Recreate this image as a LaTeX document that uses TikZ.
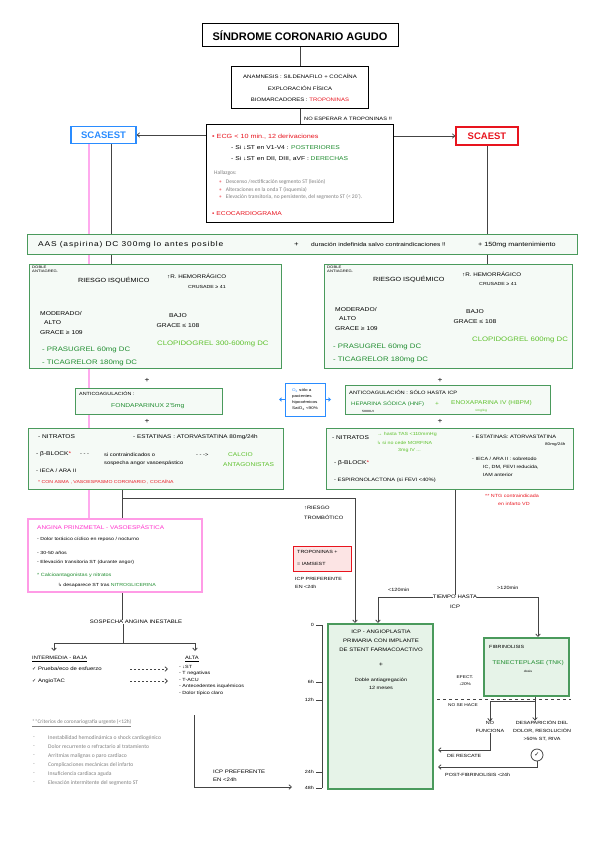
\documentclass[tikz,border=0pt]{standalone}
\usepackage{fontspec}
\setmainfont{Liberation Sans}
\newfontfamily\hand[FakeStretch=1.2]{Liberation Sans}
\newfontfamily\handsp[FakeStretch=1.2,LetterSpace=12]{Liberation Sans}
\newfontfamily\calib{Carlito}
\newfontfamily\dvs{DejaVu Sans}
\usetikzlibrary{arrows.meta,calc,backgrounds}
\newcommand\hf[1]{\hand\fontsize{#1}{#1}\selectfont}
\newcommand\hfl[2]{\hand\fontsize{#1}{#2}\selectfont}
\definecolor{gbord}{HTML}{4A9A5C}
\definecolor{gfill}{HTML}{F5FAF6}
\definecolor{gfillb}{HTML}{E6F3E8}
\definecolor{dgreen}{HTML}{1E8C2E}
\definecolor{lgreen}{HTML}{5CC02A}
\definecolor{hred}{HTML}{E8141E}
\definecolor{hblue}{HTML}{2A8CFF}
\definecolor{hpink}{HTML}{FF33CC}
\definecolor{pinkb}{HTML}{FF9BE6}
\definecolor{pinkl}{HTML}{FFAAEE}
\definecolor{lgray}{HTML}{444444}
\definecolor{tgray}{HTML}{7F7F7F}
\definecolor{rfill}{HTML}{FCE4E4}
\begin{document}
\begin{tikzpicture}[x=1pt,y=-1pt,
  t/.style={inner sep=0, anchor=west, font=\hf{5.5}},
  tc/.style={inner sep=0, align=center, font=\hf{5.5}},
  ln/.style={draw=lgray, line width=0.75pt},
  arr/.style={ln, -{Straight Barb[length=2.5pt,width=4.5pt]}},
  box/.style={draw=black, line width=1pt, fill=white, inner sep=0},
  gbox/.style={draw=gbord, fill=gfill, line width=1pt, inner sep=0},
  gboxb/.style={draw=gbord, fill=gfillb, line width=1.1pt, inner sep=0},
  gt/.style={inner sep=0, anchor=west, text=tgray, font=\calib\fontsize{5.5}{6}\selectfont},
]
\useasboundingbox (0,0) rectangle (599,848);

% ---------- top ----------
\node[box, minimum width=196, minimum height=23, font=\bfseries\fontsize{11}{12}\selectfont] (title) at (300,35.5) {SÍNDROME CORONARIO AGUDO};
\node[box, minimum width=137, minimum height=42, align=center, font=\hfl{5}{11.5}] (anam) at (300,88) {ANAMNESIS : SILDENAFILO + COCAÍNA\\EXPLORACIÓN FÍSICA\\BIOMARCADORES : \textcolor{hred}{TROPONINAS}};
\node[t, font=\hf{4.8}] (noesp) at (304,119) {NO ESPERAR A TROPONINAS !!};
\node[box, minimum width=187, minimum height=97] (ecg) at (299.5,173.5) {};
\node[t, text=hred, font=\hf{6}] (ecg1) at (212,137) {• ECG < 10 min., 12 derivaciones};
\node[t, font=\hf{5.6}] (ecg2) at (231,147.5) {- Si ↓ST en V1-V4 : \textcolor{dgreen}{POSTERIORES}};
\node[t, font=\hf{5.6}] (ecg3) at (231,158.5) {- Si ↓ST en DII, DIII, aVF : \textcolor{dgreen}{DERECHAS}};
\node[gt] (hall) at (214,173) {Hallazgos:};
\node[gt] (h1) at (219,182) {\textcolor{hred!50}{•}\hspace{4pt}Descenso /rectificación segmento ST (lesión)};
\node[gt] (h2) at (219,189.5) {\textcolor{hred!50}{•}\hspace{4pt}Alteraciones en la onda T (isquemia)};
\node[gt] (h3) at (219,197) {\textcolor{hred!50}{•}\hspace{4pt}Elevación transitoria, no persistente, del segmento ST (< 20´).};
\node[t, text=hred, font=\hf{5.6}] (eco) at (212,214) {• ECOCARDIOGRAMA};

\node[draw=hblue, line width=1.2pt, fill=white, minimum width=65, minimum height=17, inner sep=0, text=hblue, font=\bfseries\fontsize{9.5}{10}\selectfont] (scasest) at (103.5,135) {SCASEST};
\node[draw=hred, line width=1.2pt, fill=white, minimum width=62, minimum height=18, inner sep=0, text=hred, font=\bfseries\fontsize{9.5}{10}\selectfont] (scaest) at (487,136) {SCAEST};

% ---------- AAS ----------
\node[gbox, minimum width=550, minimum height=20] (aas) at (302,244.5) {};
\node[t, font=\handsp\fontsize{7}{7}\selectfont] (aas1) at (38,244.5) {AAS (aspirina) DC 300mg lo antes posible};
\node[t, font=\hf{6.5}] (aas2) at (294,244.5) {+};
\node[t, font=\hf{5.5}] (aas3) at (311,244.5) {duración indefinida salvo contraindicaciones !!};
\node[t, font=\hf{6}] (aas4) at (478,244.5) {+ 150mg mantenimiento};

% ---------- riesgo left ----------
\node[gbox, minimum width=252, minimum height=104] (rL) at (155,316) {};
\node[anchor=north west, inner sep=0, align=left, font=\hfl{3.5}{4}] (dL) at (32,266) {DOBLE\\ANTIAGREG.};
\node[t, font=\hf{6}] (risL) at (78,280) {RIESGO ISQUÉMICO};
\node[t, font=\hf{5.2}] (hemL) at (167,276.5) {↑R. HEMORRÁGICO};
\node[t, font=\hf{4.4}] (crL) at (188,286.5) {CRUSADE ≥ 41};
\node[anchor=north west, inner sep=0, align=left, font=\hfl{5.6}{9.5}] (modL) at (40,311) {MODERADO/\\\hspace*{4pt}ALTO\\GRACE ≥ 109};
\node[tc, font=\hfl{5.6}{10}] (bajL) at (178,321) {BAJO\\GRACE ≤ 108};
\node[t, text=lgreen, font=\hf{6.5}] (clL) at (157,344) {CLOPIDOGREL 300-600mg DC};
\node[t, text=dgreen, font=\hf{6.5}] (prL) at (42,350) {- PRASUGREL 60mg DC};
\node[t, text=dgreen, font=\hf{6.5}] (tiL) at (42,363) {- TICAGRELOR 180mg DC};
\coordinate (cL) at (232,337);
\coordinate (bL) at (110,295);
\coordinate (aL1) at (58,305);
\coordinate (aL2) at (179,305);

% ---------- riesgo right ----------
\node[gbox, minimum width=248, minimum height=104] (rR) at (448,316) {};
\node[anchor=north west, inner sep=0, align=left, font=\hfl{3.5}{4}] (dR) at (327,266) {DOBLE\\ANTIAGREG.};
\node[t, font=\hf{6}] (risR) at (373,279) {RIESGO ISQUÉMICO};
\node[t, font=\hf{5.2}] (hemR) at (462,274) {↑R. HEMORRÁGICO};
\node[t, font=\hf{4.4}] (crR) at (479,284) {CRUSADE ≥ 41};
\node[anchor=north west, inner sep=0, align=left, font=\hfl{5.6}{9.5}] (modR) at (335,307) {MODERADO/\\\hspace*{4pt}ALTO\\GRACE ≥ 109};
\node[tc, font=\hfl{5.6}{10}] (bajR) at (475,317) {BAJO\\GRACE ≤ 108};
\node[t, text=lgreen, font=\hf{6.5}] (clR) at (472,340) {CLOPIDOGREL 600mg DC};
\node[t, text=dgreen, font=\hf{6.5}] (prR) at (333,347) {- PRASUGREL 60mg DC};
\node[t, text=dgreen, font=\hf{6.5}] (tiR) at (333,360) {- TICAGRELOR 180mg DC};
\coordinate (cR) at (527,334);
\coordinate (bR) at (407,291);
\coordinate (aR1) at (352,301);
\coordinate (aR2) at (475,301);

% ---------- pluses ----------
\node[tc, font=\hf{7}] (pl1) at (147,380) {+};
\node[tc, font=\hf{7}] (pl2) at (440,380) {+};
\node[tc, font=\hf{7}] (pl3) at (147,421) {+};
\node[tc, font=\hf{7}] (pl4) at (440,421) {+};

% ---------- anticoagulation ----------
\node[gbox, minimum width=147, minimum height=26] (acL) at (148.5,401) {};
\node[t, font=\hf{4.5}] (acL1) at (79,394) {ANTICOAGULACIÓN :};
\node[t, text=dgreen, font=\hf{5.6}] (acL2) at (111,406.5) {FONDAPARINUX 2’5mg};

\node[draw=hblue, line width=1pt, fill=white, minimum width=40, minimum height=33, inner sep=0, align=left, font=\hfl{3.8}{5.8}] (o2) at (305,399.5) {\textcolor{hblue}{O\textsubscript{2}} sólo a\\pacientes\\hipoxémicos\\SatO\textsubscript{2} <90\%};
\coordinate (o2l) at (279,399.5);
\coordinate (o2r) at (331,399.5);
\draw[hblue, line width=0.8pt, -{Straight Barb[length=2pt,width=3.5pt]}] (o2.west) -- (o2l);
\draw[hblue, line width=0.8pt, -{Straight Barb[length=2pt,width=3.5pt]}] (o2.east) -- (o2r);

\node[gbox, minimum width=205, minimum height=29] (acR) at (447.5,400) {};
\node[t, font=\hf{4.8}] (acR1) at (349,392) {ANTICOAGULACIÓN : SÓLO HASTA ICP};
\node[t, text=dgreen, font=\hf{5}] (acR2) at (351,403.5) {HEPARINA SÓDICA (HNF)};
\node[t, text=lgreen, font=\hf{5.5}] (acR3) at (435,403.5) {+};
\node[t, text=lgreen, font=\hf{5.5}] (acR4) at (451,403.5) {ENOXAPARINA IV (HBPM)};
\node[t, font=\hf{3}] (acR5) at (362,411) {5000UI};
\node[t, text=lgreen, font=\hf{3}] (acR6) at (475,411) {1mg/kg};

% ---------- nitratos left ----------
\node[gbox, minimum width=255, minimum height=61] (nL) at (155.5,458.5) {};
\node[t] (nl1) at (38,437) {- NITRATOS};
\node[t, font=\hf{5.3}] (nl2) at (133,437) {- ESTATINAS : ATORVASTATINA 80mg/24h};
\node[t] (nl3) at (36,454) {- β-BLOCK\textcolor{hred}{*}};
\node[t, font=\hf{4.8}] (nl4) at (80,455) {- - -};
\node[t, font=\hf{4.8}] (nl5) at (104,455) {si contraindicados o};
\node[t, font=\hf{4.8}] (nl6) at (196,455) {- - ->};
\node[t, text=lgreen, font=\hf{5.5}] (nl7) at (228,455) {CALCIO};
\node[t, font=\hf{4.8}] (nl8) at (104,463) {sospecha angor vasoespástico};
\node[t, text=lgreen, font=\hf{5.5}] (nl9) at (223,464.5) {ANTAGONISTAS};
\node[t, font=\hf{5}] (nl10) at (36,471) {- IECA / ARA II};
\node[t, text=hred, font=\hf{4.3}] (nl11) at (38,482) {* CON ASMA , VASOESPASMO CORONARIO , COCAÍNA};

% ---------- nitratos right ----------
\node[gbox, minimum width=247, minimum height=61] (nR) at (449.5,458.5) {};
\node[t] (nr1) at (332,438) {- NITRATOS};
\node[t, text=lgreen, font=\hf{4.4}] (nr2) at (377,434.5) {→ hasta TAS <110mmHg};
\node[t, text=lgreen, font=\hf{4.4}] (nr3) at (377,442.5) {{\dvs ↳} si no cede MORFINA};
\node[t, text=lgreen, font=\hf{4.4}] (nr4) at (398,450.5) {3mg IV ...};
\node[t, font=\hf{4.8}] (nr5) at (472,437) {- ESTATINAS: ATORVASTATINA};
\node[t, font=\hf{3.8}] (nr6) at (545,445) {80mg/24h};
\node[t] (nr7) at (334,463) {- β-BLOCK\textcolor{hred}{*}};
\node[t, font=\hf{4.5}] (nr8) at (472,459) {- IECA / ARA II : sobretodo};
\node[t, font=\hf{4.5}] (nr9) at (483,467) {IC, DM, FEVI reducida,};
\node[t, font=\hf{4.5}] (nr10) at (483,475) {IAM anterior};
\node[t, font=\hf{4.8}] (nr11) at (334,480) {- ESPIRONOLACTONA (si FEVI <40\%)};

\node[t, text=hred, font=\hf{4.5}] (ntg1) at (485,496) {** NTG contraindicada};
\node[t, text=hred, font=\hf{4.5}] (ntg2) at (498,504) {en infarto VD};

% ---------- Prinzmetal ----------
\node[draw=pinkb, line width=1.2pt, fill=white, minimum width=174, minimum height=73, inner sep=0] (pink) at (115,555.5) {};
\node[t, text=hpink, font=\hf{5.4}] (pk1) at (37,527) {ANGINA PRINZMETAL - VASOESPÁSTICA};
\node[t, font=\hf{4.4}] (pk2) at (37,539) {- Dolor torácico cíclico en reposo / nocturno};
\node[t, font=\hf{4.4}] (pk3) at (37,553) {- 30-50 años};
\node[t, font=\hf{4.4}] (pk4) at (37,562) {- Elevación transitoria ST (durante angor)};
\node[t, text=dgreen, font=\hf{4.6}] (pk5) at (37,575) {* Calcioantagonistas y nitratos};
\node[t, font=\hf{4.4}] (pk6) at (58,585) {{\dvs ↳} desaparece ST tras \textcolor{dgreen}{NITROGLICERINA}};

% ---------- middle ----------
\coordinate (jL) at (122,498);
\coordinate (icpL) at (355,623);
\node[anchor=north west, inner sep=0, align=left, font=\hfl{4.8}{10}] (trom) at (304,506) {↑RIESGO\\TROMBÓTICO};
\node[draw=hred, line width=1pt, fill=rfill, minimum width=58, minimum height=25, inner sep=0] (trop) at (322,558.5) {};
\node[t, font=\hf{4.5}] (tr1) at (297,552) {TROPONINAS +};
\node[t, font=\hf{4.5}] (tr2) at (297,564) {= IAMSEST};
\node[t, font=\hf{4.5}] (ipl1) at (295,579) {ICP PREFERENTE};
\node[t, font=\hf{4.5}] (ipl2) at (295,587) {EN <24h};

\node[tc, font=\hf{5}] (tiempo) at (455,597) {TIEMPO HASTA};
\node[tc, font=\hf{5}] (tiempo2) at (455,607) {ICP};
\node[t, font=\hf{4.6}] (lt120) at (388,590) {<120min};
\node[t, font=\hf{4.6}] (gt120) at (497,588) {>120min};
\coordinate (icpR) at (378,623);
\coordinate (fibT) at (538,637);

% ---------- ICP box and timeline ----------
\node[gboxb, minimum width=105, minimum height=165] (icp) at (380.5,706.5) {};
\node[tc, font=\hfl{5}{9}] (icp1) at (381,641) {ICP - ANGIOPLASTIA\\PRIMARIA CON IMPLANTE\\DE STENT FARMACOACTIVO};
\node[tc, font=\hf{6}] (icp2) at (381,665) {+};
\node[tc, font=\hfl{4.6}{8}] (icp3) at (381,684) {Doble antiagregación\\12 meses};

\coordinate (tl0) at (322,625);
\coordinate (tl1) at (322,788);
\draw[ln] (tl0) -- (tl1);
\foreach \yy/\lab in {625/0, 682/6h, 700/12h, 772/24h, 788/48h}{
  \draw[ln] (316,\yy) -- (322,\yy);
  \node[inner sep=0, anchor=east, font=\hf{4.5}] at (314,\yy) {\lab};
}

% ---------- fibrinolisis ----------
\node[gboxb, minimum width=85, minimum height=58] (fib) at (526.5,667) {};
\node[t, font=\hf{4.5}] (fib1) at (489,647) {FIBRINOLISIS};
\node[tc, text=dgreen, font=\hf{5.5}] (fib2) at (528,663) {TENECTEPLASE (TNK)};
\node[tc, font=\hf{3}] (fib3) at (528,671) {dosis};
\node[tc, font=\hfl{4}{7}] (efect) at (465,681) {EFECT.\\↓20\%};
\node[t, font=\hf{4}] (nosehace) at (448,705.5) {NO SE HACE};
\coordinate (dash1) at (437,699);
\coordinate (dash2) at (571,699);
\draw[ln, dash pattern=on 3pt off 3pt] (dash1) -- (dash2);
\coordinate (fb) at (535,701);
\coordinate (fb2) at (490,701);
\node[tc, font=\hfl{4.5}{7.5}] (nofun) at (490,727) {NO\\FUNCIONA};
\node[tc, font=\hfl{4.5}{8}] (desap) at (542,731) {DESAPARICIÓN DEL\\DOLOR, RESOLUCIÓN\\>50\% ST, RIVA};
\node[draw=lgray, circle, line width=0.8pt, minimum size=12, inner sep=0, font=\dvs\fontsize{6}{6}\selectfont] (chk) at (537,755) {✓};
\coordinate (r1) at (438,750);
\coordinate (r2) at (438,767);
\node[t, font=\hf{4.5}] (resc) at (447,756) {DE RESCATE};
\node[t, font=\hf{4.5}] (post) at (445,775) {POST-FIBRINOLISIS <24h};

% ---------- bottom left ----------
\node[tc, font=\hf{5}] (sosp) at (136,622) {SOSPECHA ANGINA INESTABLE};
\coordinate (s1) at (123,643);
\coordinate (ib) at (54,651);
\coordinate (ia) at (195,651);
\node[t, font=\hf{4.8}] (inter) at (32,659) {\underline{INTERMEDIA - BAJA}};
\node[t, font=\hf{4.8}] (alta) at (185,659) {\underline{ALTA}};
\node[t, font=\hf{5}] (pru) at (32,669) {{\dvs ✓} Prueba/eco de esfuerzo};
\node[t, font=\hf{5}] (ang) at (32,681) {{\dvs ✓} AngioTAC};
\coordinate (d1s) at (130,669);
\coordinate (d1e) at (168,669);
\coordinate (d2s) at (130,681);
\coordinate (d2e) at (168,681);
\node[anchor=north west, inner sep=0, align=left, font=\hfl{4.5}{6.5}] (alist) at (179,665) {- ↓ST\\- T negativas\\- T-ACU\\- Antecedentes isquémicos\\- Dolor típico claro};
\coordinate (al) at (194,715);
\coordinate (al2) at (194,787);
\coordinate (al3) at (292,787);
\node[t, font=\hf{5}] (icpb1) at (213,772) {ICP PREFERENTE};
\node[t, font=\hf{5}] (icpb2) at (213,780) {EN <24h};

\node[gt, font=\calib\fontsize{5.4}{6}\selectfont] (crit) at (32,723) {\underline{**Criterios de coronariografía urgente (<12h)}};
\foreach \yy/\txt in {738/Inestabilidad hemodinámica o shock cardiogénico,
                      747/Dolor recurrente o refractario al tratamiento,
                      756/Arritmias malignas o paro cardiaco,
                      765/Complicaciones mecánicas del infarto,
                      774/Insuficiencia cardiaca aguda,
                      783/Elevación intermitente del segmento ST}{
  \node[gt, font=\calib\fontsize{5.6}{6}\selectfont] at (33,\yy) {-};
  \node[gt, font=\calib\fontsize{5.6}{6}\selectfont] at (48,\yy) {\txt};
}

% ---------- connectors ----------
\begin{scope}[on background layer]
  \draw[ln] (title.south) -- (title.south |- anam.north);
  \draw[ln] (anam.south) -- (anam.south |- ecg.north);
  \draw[arr] (scasest.east -| ecg.west) -- (scasest.east);
  \draw[arr] (scaest.west -| ecg.east) -- (scaest.west);
  \coordinate (pk) at (89,143);
  \draw[draw=pinkl, line width=1.2pt] (pk) -- (pk |- pink.north);
  \coordinate (g1) at (111,143);
  \draw[ln] (g1) -- (g1 |- aas.north);
  \draw[ln] (g1 |- aas.south) -- (g1 |- rL.north);
  \draw[ln] (scaest.south) -- (scaest.south |- aas.north);
  \draw[ln] (scaest.south |- aas.south) -- (scaest.south |- rR.north);
  % riesgo left
  \draw[arr] (risL.east) -| (cL);
  \draw[ln] (bL |- risL.south) -- (bL);
  \draw[arr] (bL) -| (aL1);
  \draw[arr] (bL) -| (aL2);
  % riesgo right
  \draw[arr] (risR.east) -| (cR);
  \draw[ln] (bR |- risR.south) -- (bR);
  \draw[arr] (bR) -| (aR1);
  \draw[arr] (bR) -| (aR2);
  % middle
  \draw[ln] (nL.south -| jL) -- (jL |- sosp.north);
  \draw[arr] (jL) -| (icpL);
  \draw[ln] (tiempo.north |- nR.south) -- (tiempo.north);
  \draw[arr] (tiempo.west) -| (icpR);
  \draw[arr] (tiempo.east) -| (fibT);
  % fibrinolisis
  \draw[ln] (fib.south -| fb) -- (fb) -- (fb2);
  \draw[arr] (fb2) -- (nofun.north);
  \draw[arr] (fb) -- (fb |- desap.north);
  \draw[arr] (nofun.south) |- (r1);
  \draw[arr] (chk.south) |- (r2);
  % bottom left
  \draw[ln] (s1 |- sosp.south) -- (s1);
  \draw[arr] (s1) -| (ib);
  \draw[arr] (s1) -| (ia);
  \draw[arr, dash pattern=on 2pt off 2pt] (d1s) -- (d1e);
  \draw[arr, dash pattern=on 2pt off 2pt] (d2s) -- (d2e);
  \draw[arr] (al) -- (al2) -- (al3);
\end{scope}
\end{tikzpicture}
\end{document}
